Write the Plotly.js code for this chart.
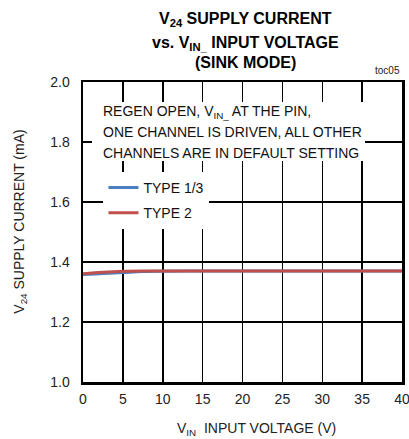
<!DOCTYPE html>
<html>
<head>
<meta charset="utf-8">
<script src="https://cdn.plot.ly/plotly-3.0.1.min.js"></script>
<style>
html,body{margin:0;padding:0;background:#fff;}
#chart{width:409px;height:439px;}
</style>
</head>
<body>
<div id="chart"></div>
<script>
var vin = [0, 2.5, 5, 7.5, 10, 15, 20, 25, 30, 35, 40];
var type13 = [1.358, 1.362, 1.365, 1.368, 1.369, 1.370, 1.370, 1.370, 1.370, 1.370, 1.370];
var type2 = [1.361, 1.366, 1.369, 1.370, 1.370, 1.370, 1.370, 1.370, 1.370, 1.370, 1.370];
var seriesNames = ["TYPE 1/3", "TYPE 2"];
var xTicks = [0, 5, 10, 15, 20, 25, 30, 35, 40];
var yTicks = [1.0, 1.2, 1.4, 1.6, 1.8, 2.0];
var yTickText = ["1.0", "1.2", "1.4", "1.6", "1.8", "2.0"];
var titleLines = ["V<sub>24</sub> SUPPLY CURRENT", "vs. V<sub>IN_</sub> INPUT VOLTAGE", "(SINK MODE)"];
var noteLines = ["REGEN OPEN, V<sub>IN_</sub> AT THE PIN,", "ONE CHANNEL IS DRIVEN, ALL OTHER", "CHANNELS ARE IN DEFAULT SETTING"];

var FONT = "'Liberation Sans', Arial, sans-serif";

var traces = [
  {x: vin, y: type13, name: seriesNames[0], legendgroup: "g1", mode: "lines", line: {color: "#4a7ebf", width: 3, shape: "spline"}},
  {x: vin, y: type2, name: seriesNames[1], legendgroup: "g2", mode: "lines", line: {color: "#c0504d", width: 3, shape: "spline"}}
];

// plot-area pixel helpers (margins below)
var L = 82.5, T = 82, W = 319.5, H = 300;
function px(xp) { return (xp - L) / W; }
function py(yp) { return (T + H - yp) / H; }

var annotations = [];
// white backing box that hides the grid behind the note
annotations.push({
  xref: "paper", yref: "paper", x: px(92), y: py(102), xanchor: "left", yanchor: "top",
  width: 273, height: 59, text: " ", showarrow: false, bgcolor: "#fff", borderpad: 0, borderwidth: 0
});

var titleY = [1.207, 1.127, 1.064];
titleLines.forEach(function (t, i) {
  annotations.push({
    xref: "paper", yref: "paper", x: 0.509, y: titleY[i], xanchor: "center", yanchor: "middle",
    showarrow: false, text: "<b>" + t + "</b>",
    font: {family: FONT, size: 16, color: "#000"}
  });
});
var noteY = [1.899, 1.833, 1.763];
noteLines.forEach(function (t, i) {
  annotations.push({
    xref: "x", yref: "y", x: 2.2, y: noteY[i], xanchor: "left", yanchor: "middle",
    showarrow: false, text: t, align: "left",
    font: {family: FONT, size: 14, color: "#111"}
  });
});
annotations.push({
  xref: "paper", yref: "paper", x: 1.0, y: 1.012, xanchor: "right", yanchor: "bottom",
  showarrow: false, text: "toc05", font: {family: FONT, size: 10, color: "#222"}
});
annotations.push({
  xref: "paper", yref: "paper", x: 0.545, y: -0.155, xanchor: "center", yanchor: "middle",
  showarrow: false, text: "V<sub>IN</sub>  INPUT VOLTAGE (V)",
  font: {family: FONT, size: 14, color: "#222"}
});
annotations.push({
  xref: "paper", yref: "paper", x: -0.2, y: 0.535, xanchor: "center", yanchor: "middle",
  showarrow: false, textangle: -90, text: "V<sub>24</sub> SUPPLY CURRENT (mA)",
  font: {family: FONT, size: 14, color: "#222"}
});

var layout = {
  width: 409, height: 439,
  margin: {l: L, r: 7, t: T, b: 57},
  paper_bgcolor: "#fff", plot_bgcolor: "#fff",
  font: {family: FONT, size: 14, color: "#222"},
  xaxis: {
    range: [0, 40], tickvals: xTicks, ticktext: xTicks.map(String),
    showgrid: true, gridcolor: "#000", gridwidth: 1.5,
    showline: true, linecolor: "#000", linewidth: 2.5, mirror: true,
    ticks: "", zeroline: false, fixedrange: true, ticklabeloverflow: "allow",
    ticklabelstandoff: 3,
    tickfont: {family: FONT, size: 14, color: "#222"}
  },
  yaxis: {
    range: [1.0, 2.0], tickvals: yTicks, ticktext: yTickText,
    showgrid: true, gridcolor: "#000", gridwidth: 1.5,
    showline: true, linecolor: "#000", linewidth: 2.5, mirror: true,
    ticks: "", zeroline: false, fixedrange: true,
    ticklabelstandoff: 8,
    tickfont: {family: FONT, size: 14, color: "#222"}
  },
  showlegend: true,
  legend: {
    x: px(103), y: py(172), xanchor: "left", yanchor: "top",
    bgcolor: "#fff", borderwidth: 0, itemwidth: 30,
    font: {family: FONT, size: 14, color: "#111"},
    traceorder: "grouped", tracegroupgap: 4
  },
  annotations: annotations
};

Plotly.newPlot("chart", traces, layout, {displayModeBar: false, staticPlot: true});
</script>
</body>
</html>
